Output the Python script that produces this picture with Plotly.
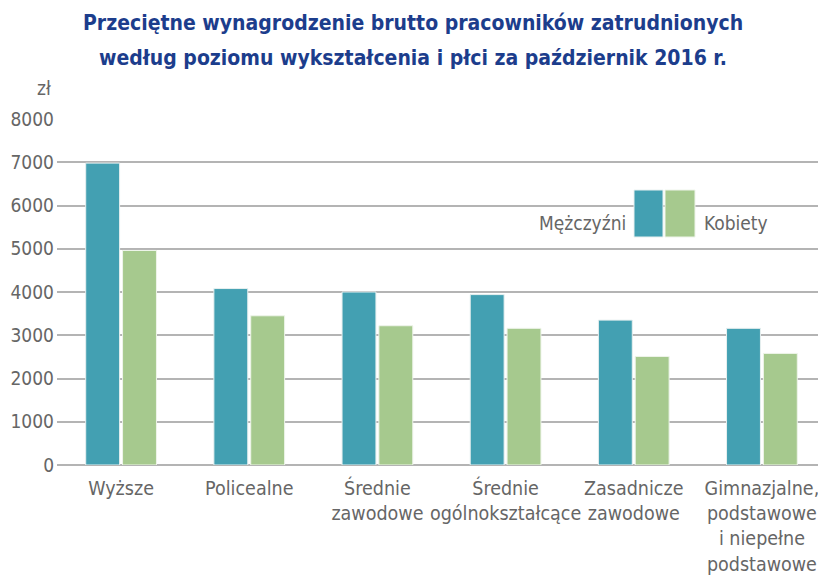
import plotly.graph_objects as go

categories = ["Wyższe", "Policealne", "Średnie<br>zawodowe", "Średnie<br>ogólnokształcące",
              "Zasadnicze<br>zawodowe", "Gimnazjalne,<br>podstawowe<br>i niepełne<br>podstawowe"]
men = [6980, 4080, 4000, 3940, 3350, 3160]
women = [4960, 3450, 3220, 3160, 2510, 2580]
y_ticks = [0, 1000, 2000, 3000, 4000, 5000, 6000, 7000, 8000]
title_lines = ["Przeciętne wynagrodzenie brutto pracowników zatrudnionych",
               "według poziomu wykształcenia i płci za październik 2016 r."]

TEAL = "#43a0b2"
GREEN = "#a6c98e"
FONT = "DejaVu Sans Condensed, Liberation Sans Narrow, sans-serif"

OFF = 8  # page body margin
W, H = 826 - OFF, 579 - OFF
L, T, B, R = 57, 119, 465, 826  # plot area in viewport pixels
PW, PH = R - L, B - T


def px(x):
    return (x - L) / PW


def py(y):
    return (B - y) / PH


fig = go.Figure()
fig.add_trace(go.Bar(x=categories, y=men, name="Mężczyźni", marker=dict(color=TEAL, line=dict(color="#e8f0f0", width=1))))
fig.add_trace(go.Bar(x=categories, y=women, name="Kobiety", marker=dict(color=GREEN, line=dict(color="#eef4ea", width=1))))

fig.update_layout(
    width=W, height=H,
    margin=dict(l=L - OFF, r=W - (R - OFF), t=T - OFF, b=H - (B - OFF)),
    paper_bgcolor="white", plot_bgcolor="white",
    barmode="group", bargap=0.425, bargroupgap=0.08,
    showlegend=False,
    font=dict(family=FONT, color="#666666", size=19),
    xaxis=dict(showgrid=False, showline=False, ticks="", tickangle=0, automargin=False,
               tickfont=dict(size=19.5, color="#666666"), ticklabelstandoff=9),
    yaxis=dict(range=[0, 8000], tickvals=y_ticks, showgrid=True, gridcolor="#b4b4b4", gridwidth=2,
               zeroline=True, zerolinecolor="#b4b4b4", zerolinewidth=2, ticks="", automargin=False,
               ticklabelstandoff=2, tickfont=dict(size=19, color="#666666")),
)

for line, yc in zip(title_lines, [23, 58]):
    fig.add_annotation(text="<b>" + line + "</b>", xref="paper", yref="paper", x=px(413), y=py(yc),
                       xanchor="center", yanchor="middle", showarrow=False,
                       font=dict(size=21, color="#1c3d8c"))

fig.add_annotation(text="zł", xref="paper", yref="paper", x=px(53), y=py(88), xanchor="right", yanchor="middle",
                   showarrow=False, font=dict(size=19, color="#666666"))

# legend built from shapes/annotations (paper coordinates)
fig.add_shape(type="rect", xref="paper", yref="paper", x0=px(634), x1=px(663),
              y0=py(237), y1=py(190), fillcolor=TEAL, line=dict(color="#e8f0f0", width=1))
fig.add_shape(type="rect", xref="paper", yref="paper", x0=px(665), x1=px(695),
              y0=py(237), y1=py(190), fillcolor=GREEN, line=dict(color="#eef4ea", width=1))
fig.add_annotation(text="Mężczyźni", xref="paper", yref="paper", x=px(628), y=py(223),
                   xanchor="right", yanchor="middle", showarrow=False, bgcolor="white",
                   font=dict(size=19, color="#666666"))
fig.add_annotation(text="Kobiety", xref="paper", yref="paper", x=px(702), y=py(223),
                   xanchor="left", yanchor="middle", showarrow=False, bgcolor="white",
                   font=dict(size=19, color="#666666"))

fig.write_html("out.html")
